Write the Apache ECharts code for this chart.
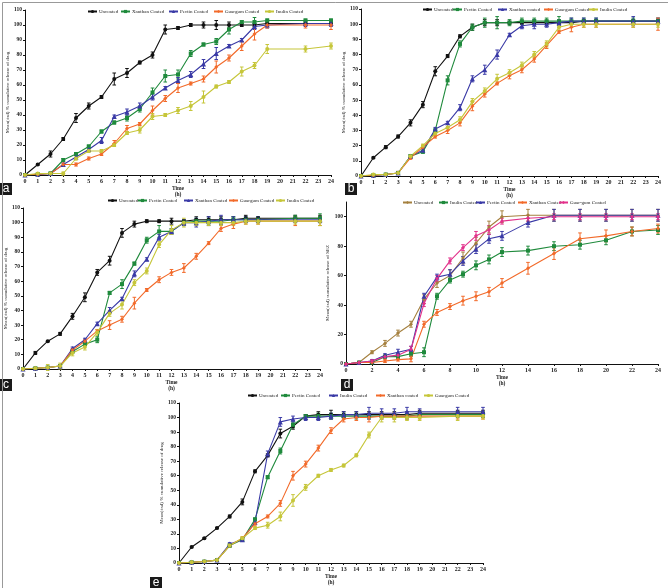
<!DOCTYPE html>
<html><head><meta charset="utf-8">
<script src="https://cdn.jsdelivr.net/npm/echarts@6/dist/echarts.min.js"></script>
<style>html,body{margin:0;padding:0;background:#fff}#c{width:668px;height:588px}</style>
</head><body><div id="c"></div>
<script>
// ---------- data ----------
const timesStd = [0,1,2,3,4,5,6,7,8,9,10,11,12,13,14,15,16,17,18,19,22,24];
const timesD = [0,1,2,3,4,5,6,7,8,9,10,11,12,14,16,18,20,22,24];

// Panel a
const aNames = ['Uncoated','Xanthan Coated','Pectin Coated','Guargum Coated','Inulin Coated'];
const aUncoated = [0,7,14,24,38,46,52,64,68,75,80,97,98,100,100,100,100,100,100,101,101,101];
const aXanthan  = [0,0.5,1,10,14,19,29,35,38,44,55,66,67,81,87,89,97,102,102,103,103,103];
const aPectin   = [0,0.5,1,7,12,17,23,39,42,46,52,58,63,67,74,81,86,90,99,100,101,101];
const aGuargum  = [0,0.5,1,7,7,11,14,21,31,34,43,51,58,61,64,72,78,86,94,100,100,100];
const aInulin   = [0,1,1,1,11,16,16,20,28,30,39,40,43,46,52,59,62,69,73,84,84,86];
const aUncoatedErr = [0,0.5,2,1,3,2,1,4,3,1,2,3,1,1,2,3,2,1,1,1,1,1];
const aXanthanErr  = [0,0.5,1,1,1,1,1,1,2,2,3,4,3,2,1,2,3,1,3,1,1,1];
const aPectinErr   = [0,0.5,0.5,1,1,1,2,1,2,2,2,1,2,2,3,4,1,1,2,2,2,2];
const aGuargumErr  = [0,0.5,0.5,1,1,1,1,2,2,1,3,2,3,1,2,4,2,3,4,2,2,3];
const aInulinErr   = [0,0.5,0.5,1,1,1,1,1,1,2,2,1,2,3,4,1,1,3,2,3,2,2];

// Panel b
const bNames = ['Uncoated','Pectin Coated','Xanthan coated','Guargum Coated','Inulin Coated'];
const bUncoated = [0,12,19,26,35,47,69,79,92,98,101,101,101,101,101,101,101,101,102,102,102,102];
const bPectin   = [0,0.5,1,2,13,16,30,63,87,98,101,101,101,102,102,102,102,102,102,102,102,102];
const bXanthan  = [0,0.5,1,2,13,17,31,35,45,64,70,80,93,99,100,100,101,102,102,102,102,102];
const bGuargum  = [0,0.5,1,2,12,19,26,30,35,46,54,61,66,70,77,86,95,98,100,100,100,100];
const bInulin   = [0,1,1,2,13,20,28,32,37,49,56,64,68,73,80,87,98,100,100,100,100,100];
const bUncoatedErr = [0,0.5,1,1,2,2,3,1,1,2,2,2,1,1,1,1,1,1,1,1,1,1];
const bPectinErr   = [0,0.5,0.5,0.5,1,1,1,3,2,2,3,4,2,2,2,2,3,2,2,2,2,2];
const bXanthanErr  = [0,0.5,0.5,1,1,1,1,1,2,2,3,3,1,2,3,2,2,2,2,2,3,2];
const bGuargumErr  = [0,0.5,0.5,1,1,1,1,2,2,3,2,1,2,2,2,2,1,3,2,2,2,4];
const bInulinErr   = [0,0.5,0.5,1,1,1,1,2,2,2,2,3,2,2,2,2,2,2,2,2,2,2];

// Panel c
const cNames = ['Uncoated','Pectin Coated','Xanthan Coated','Guargum Coated','Inulin Coated'];
const cUncoated = [0,11,19,24,36,49,66,74,93,99,101,101,101,101,102,102,102,102,103,103,103,103];
const cPectin   = [0,0.5,1,2,12,17,20,52,58,72,88,94,94,100,101,101,101,102,102,102,103,103];
const cXanthan  = [0,0.5,1,2,14,20,31,40,48,65,75,90,94,100,100,101,102,102,102,102,102,102];
const cGuargum  = [0,0.5,1,2,13,19,26,30,34,45,54,61,66,69,77,86,96,99,101,101,101,101];
const cInulin   = [0,0.5,1,2,11,15,25,38,44,59,67,85,95,100,100,100,100,100,101,101,101,101];
const cUncoatedErr = [0,1,0.5,1,2,3,2,3,3,2,1,1,2,1,2,2,2,2,2,1,2,2];
const cPectinErr   = [0,0.5,0.5,1,1,1,2,1,3,1,2,4,2,2,2,2,2,2,2,2,2,3];
const cXanthanErr  = [0,0.5,0.5,1,1,1,1,2,1,2,1,2,2,2,3,3,3,2,2,2,2,2];
const cGuargumErr  = [0,0.5,0.5,1,1,1,1,3,2,4,1,2,2,3,2,1,2,3,2,2,3,3];
const cInulinErr   = [0,0.5,2,2,2,2,2,2,3,2,2,2,3,3,2,2,2,2,2,2,2,3];

// Panel d
const dNames = ['Uncoated','Inulin Coated','Pectin Coated','Xanthan Coated','Guar-gum Coated'];
const dUncoated = [0,1,8,14,21,27,44,55,60,72,82,93,100,101,101,101,101,101,101];
const dInulin   = [0,1,1,5,5,7,8,46,57,61,67,71,76,77,80,81,84,90,91];
const dPectin   = [0,1,2,6,8,10,46,59,61,70,78,85,87,96,101,101,101,101,101];
const dXanthan  = [0,1,1,2,3,3.5,27,35,39,43,46,49,55,65,75,85,87,90,92];
const dGuargum  = [0,1,2,5,6,10,41,58,70,79,87,91,97,99,100,100,100,100,100];
const dUncoatedErr = [0,0.5,1,2,2,2,3,3,4,4,4,4,4,4,4,4,4,4,4];
const dInulinErr   = [0,0.5,0.5,1,1,2,3,2,2,2,3,3,3,3,3,3,3,3,3];
const dPectinErr   = [0,0.5,1,1,2,2,2,2,3,3,3,3,3,3,4,4,4,4,4];
const dXanthanErr  = [0,0.5,0.5,1,1,2,2,2,2,3,3,3,3,4,4,4,4,3,3];
const dGuargumErr  = [0,0.5,1,1,1,2,2,2,2,2,3,3,2,2,2,2,2,2,2];

// Panel e
const eNames = ['Uncoated','Pectin Coated','Inulin Coated','Xanthan coated','Guargum Coated'];
const eUncoated = [0,11,17,24,32,42,63,74,89,94,101,102,102,102,102,102,102,102,102,103,103,103];
const ePectin   = [0,0.5,1,2,12,16,30,59,77,95,101,101,101,101,101,101,101,101,101,102,102,102];
const eInulin   = [0,0.5,1,2,13,16,28,75,97,99,100,100,101,102,102,103,103,103,104,104,104,104];
const eXanthan  = [0,0.5,1,2,12,17,27,32,41,60,68,79,91,99,100,100,101,101,101,101,101,101];
const eGuargum  = [0,0.5,1,2,12,17,24,26,32,43,52,60,64,67,74,88,100,100,100,100,101,101];
const eUncoatedErr = [0,0.5,0.5,0.5,1,2,1,1,3,2,1,2,3,2,2,2,2,2,2,2,2,2];
const ePectinErr   = [0,0.5,0.5,0.5,1,1,1,1,2,2,1,2,2,2,2,2,2,2,2,2,2,2];
const eInulinErr   = [0,0.5,0.5,0.5,1,1,1,2,3,2,2,2,2,2,2,4,3,3,3,2,3,3];
const eXanthanErr  = [0,0.5,0.5,0.5,1,1,1,1,2,3,2,2,2,2,2,3,2,2,2,2,2,2];
const eGuargumErr  = [0,0.5,0.5,0.5,1,1,1,2,3,4,2,1,1,1,1,2,3,3,2,2,3,2];

const yLabelDrug = 'Mean(±sd) % cumulative release of drug';
const yLabelSEZ = 'Mean(±sd) cumulative release of SEZ';
const xLabel = 'Time\n(h)';

// ---------- styling ----------
const C = {black:'#111111', green:'#1f8a3c', blue:'#3a3aa6', orange:'#f26a2a', yellow:'#c6c63a',
           brown:'#a5803f', magenta:'#e2318b'};
const FONT = 'Liberation Serif';

const panels = [
  {key:'a', x:timesStd, names:aNames, ys:[aUncoated,aXanthan,aPectin,aGuargum,aInulin],
   errs:[aUncoatedErr,aXanthanErr,aPectinErr,aGuargumErr,aInulinErr],
   colors:[C.black,C.green,C.blue,C.orange,C.yellow], symbols:['circle','rect','triangle','diamond','circle'],
   grid:{left:25,top:10,width:306,height:165}, yName:yLabelDrug, xInt:1, yInt:10,
   legLefts:[87,120,168,213,264], legTop:9, tag:[0,183]},
  {key:'b', x:timesStd, names:bNames, ys:[bUncoated,bPectin,bXanthan,bGuargum,bInulin],
   errs:[bUncoatedErr,bPectinErr,bXanthanErr,bGuargumErr,bInulinErr],
   colors:[C.black,C.green,C.blue,C.orange,C.yellow], symbols:['circle','rect','triangle','diamond','circle'],
   grid:{left:361,top:9,width:297,height:167}, yName:yLabelDrug, xInt:1, yInt:10,
   legLefts:[422,452,497,543,588], legTop:7, tag:[345,183]},
  {key:'c', x:timesStd, names:cNames, ys:[cUncoated,cPectin,cXanthan,cGuargum,cInulin],
   errs:[cUncoatedErr,cPectinErr,cXanthanErr,cGuargumErr,cInulinErr],
   colors:[C.black,C.green,C.blue,C.orange,C.yellow], symbols:['circle','rect','triangle','diamond','circle'],
   grid:{left:23,top:208,width:297,height:161}, yName:yLabelDrug, xInt:1, yInt:10,
   legLefts:[107,137,183,228,275], legTop:198, tag:[0,379]},
  {key:'d', x:timesD, names:dNames, ys:[dUncoated,dInulin,dPectin,dXanthan,dGuargum],
   errs:[dUncoatedErr,dInulinErr,dPectinErr,dXanthanErr,dGuargumErr],
   colors:[C.brown,C.green,C.blue,C.orange,C.magenta], symbols:['diamond','rect','triangle','diamond','diamond'],
   grid:{left:346,top:202,width:312,height:162}, yName:yLabelSEZ, xInt:2, yInt:20,
   legLefts:[402,438,475,517,558], legTop:200, tag:[341,379]},
  {key:'e', x:timesStd, names:eNames, ys:[eUncoated,ePectin,eInulin,eXanthan,eGuargum],
   errs:[eUncoatedErr,ePectinErr,eInulinErr,eXanthanErr,eGuargumErr],
   colors:[C.black,C.green,C.blue,C.orange,C.yellow], symbols:['circle','rect','triangle','diamond','circle'],
   grid:{left:179,top:403,width:304,height:160}, yName:yLabelDrug, xInt:1, yInt:10,
   legLefts:[247,280,328,375,423], legTop:393, tag:[150,577]}
];

const grids=[], xAxes=[], yAxes=[], legends=[], series=[], graphics=[];
panels.forEach((p, pi) => {
  grids.push(Object.assign({containLabel:false}, p.grid));
  xAxes.push({type:'value', gridIndex:pi, min:0, max:24, interval:p.xInt,
    name:xLabel, nameLocation:'middle', nameGap:11,
    nameTextStyle:{fontFamily:FONT, fontSize:5.5, fontWeight:'bold', color:'#222', lineHeight:6},
    axisLine:{lineStyle:{color:'#111', width:1}}, axisTick:{length:2, lineStyle:{color:'#111'}},
    splitLine:{show:false},
    axisLabel:{fontFamily:FONT, fontSize:6, fontWeight:'bold', color:'#222', margin:3}});
  const yCustom = [];
  for (let v = 0; v <= 110; v += p.yInt) yCustom.push(v);
  yAxes.push({type:'value', gridIndex:pi, min:0, max:110,
    interval: p.yInt,
    name:p.yName, nameLocation:'middle', nameGap: p.key==='d'?16:13, nameRotate:90,
    nameTextStyle:{fontFamily:FONT, fontSize:5, color:'#222'},
    axisLine:{show:true, lineStyle:{color:'#111', width:1}},
    axisTick:{show:true, length:2, lineStyle:{color:'#111'}, customValues: yCustom},
    splitLine:{show:false},
    axisLabel:{fontFamily:FONT, fontSize:5.5, fontWeight:'bold', color:'#222', margin:3, customValues: yCustom}});
  p.names.forEach((nm, si) => {
    const uname = nm + ' '.repeat(pi);
    const col = p.colors[si];
    const pts = p.x.map((t, k) => [t, p.ys[si][k]]);
    series.push({type:'line', name:uname, xAxisIndex:pi, yAxisIndex:pi, data:pts,
      symbol:p.symbols[si], symbolSize: p.symbols[si]==='triangle'?5:4,
      showSymbol:true, lineStyle:{color:col, width:1.1}, itemStyle:{color:col},
      z:3, animation:false, silent:true});
    const ebData = p.x.map((t, k) => [t, p.ys[si][k], p.errs[si][k]]);
    series.push({type:'custom', name:uname+'_err', xAxisIndex:pi, yAxisIndex:pi, data:ebData,
      encode:{x:0, y:1}, clip:false, z:2, animation:false, silent:true,
      renderItem:(params, api) => {
        const x = api.value(0), y = api.value(1), e = api.value(2);
        if (!e) return null;
        const top = api.coord([x, y + e]), bot = api.coord([x, y - e]);
        const w = 1.8;
        const st = {stroke:col, lineWidth:1};
        return {type:'group', children:[
          {type:'line', shape:{x1:top[0], y1:top[1], x2:bot[0], y2:bot[1]}, style:st},
          {type:'line', shape:{x1:top[0]-w, y1:top[1], x2:top[0]+w, y2:top[1]}, style:st},
          {type:'line', shape:{x1:bot[0]-w, y1:bot[1], x2:bot[0]+w, y2:bot[1]}, style:st}
        ]};
      }});
    legends.push({data:[uname], left:p.legLefts[si], top:p.legTop, orient:'horizontal',
      itemWidth:9, itemHeight:4, selectedMode:false, padding:0,
      formatter: n => n.trim(),
      textStyle:{fontFamily:FONT, fontSize:5, fontWeight:'normal', color:'#222', padding:[0,0,0,-3]}});
  });
  graphics.push({type:'group', left:p.tag[0], top:p.tag[1], children:[
    {type:'rect', shape:{x:0, y:0, width:12, height:12}, style:{fill:'#1a1a1a'}},
    {type:'text', style:{text:p.key, x:6, y:6, align:'center', verticalAlign:'middle',
      fill:'#fff', font:'12px "Liberation Sans", Arial'}}]});
});
graphics.push({type:'rect', left:0, top:0, shape:{x:0, y:0, width:667, height:587},
  style:{fill:'none', stroke:'#999', lineWidth:1}});

const chart = echarts.init(document.getElementById('c'), null, {renderer:'canvas'});
chart.setOption({animation:false, backgroundColor:'#fff', grid:grids, xAxis:xAxes, yAxis:yAxes,
  legend:legends, series:series, graphic:graphics, tooltip:{show:false}});
</script></body></html>
